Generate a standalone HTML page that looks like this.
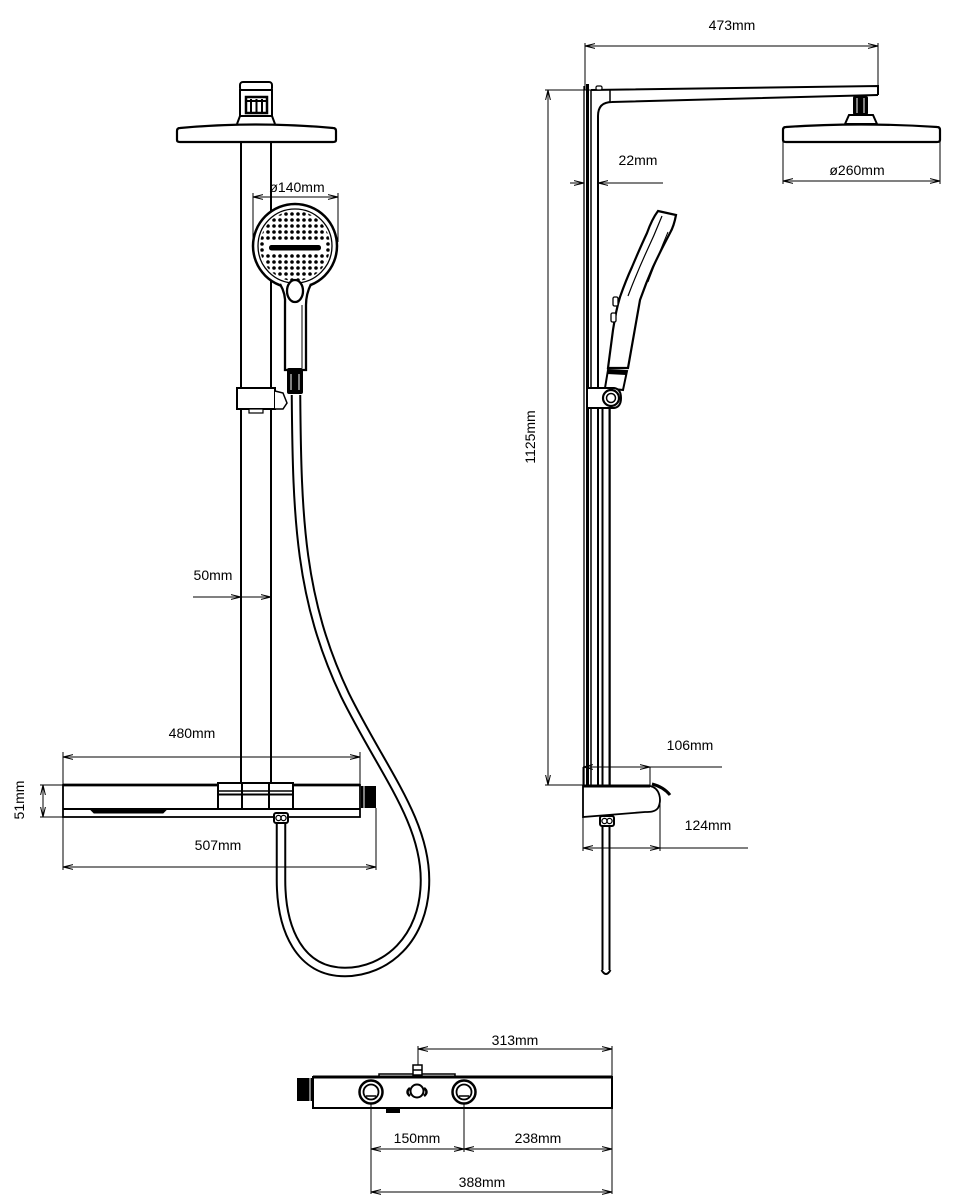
<!DOCTYPE html>
<html><head><meta charset="utf-8"><style>
html,body{margin:0;padding:0;background:#fff;}
svg{display:block;}
text{font-family:"Liberation Sans",sans-serif;font-size:14px;fill:#000;text-anchor:middle;}
</style></head><body>
<svg width="960" height="1200" viewBox="0 0 960 1200" xmlns="http://www.w3.org/2000/svg">
<defs>
<marker id="a" viewBox="0 0 10 6" refX="10" refY="3" markerWidth="10" markerHeight="6" markerUnits="userSpaceOnUse" orient="auto-start-reverse"><path d="M0,0.6 L10,3 L0,5.4" fill="none" stroke="#000" stroke-width="1"/></marker>
<pattern id="dots" width="6" height="6" patternUnits="userSpaceOnUse" x="1" y="1"><circle cx="3" cy="3" r="1.8" fill="#000"/></pattern>
<clipPath id="cc"><circle cx="295" cy="246" r="35"/></clipPath>
</defs>
<rect width="960" height="1200" fill="#fff"/>

<!-- ============ LEFT VIEW ============ -->
<g fill="none" stroke="#000" stroke-width="2">
  <!-- pipe -->
  <line x1="241" y1="140" x2="241" y2="785"/>
  <line x1="271" y1="140" x2="271" y2="785"/>
  <!-- top connector -->
  <rect x="240" y="82" width="32" height="9" rx="3" fill="#fff"/>
  <rect x="240" y="90" width="32" height="26" fill="#fff"/>
  <rect x="246" y="97" width="21" height="16" fill="#fff" stroke-width="2.5"/>
  <line x1="251" y1="99" x2="251" y2="112"/>
  <line x1="256.5" y1="99" x2="256.5" y2="112"/>
  <line x1="262" y1="99" x2="262" y2="112"/>
  <line x1="246" y1="101" x2="267" y2="101"/>
  <path d="M240,116 L237,124 M272,116 L275,124"/>
  <!-- rain disk -->
  <path d="M180,128 Q256,121 333,128 Q336,128 336,131 L336,140 Q336,142 333,142 L180,142 Q177,142 177,140 L177,131 Q177,128 180,128 Z" fill="#fff" stroke-width="2.2"/>
</g>

<!-- hose left -->
<path d="M296,395 C297,520 300,600 345,695 C382,770 425,820 425,880 C425,940 385,972 345,972 C300,972 281,930 281,880 L281,823" fill="none" stroke="#000" stroke-width="10.5"/>
<path d="M296,395 C297,520 300,600 345,695 C382,770 425,820 425,880 C425,940 385,972 345,972 C300,972 281,930 281,880 L281,823" fill="none" stroke="#fff" stroke-width="6.5"/>

<!-- hand shower left -->
<g stroke="#000" fill="none">
  <line x1="253" y1="193" x2="253" y2="242" stroke-width="1"/>
  <line x1="338" y1="193" x2="338" y2="242" stroke-width="1"/>
  <circle cx="295" cy="246" r="42" fill="#fff" stroke-width="2.5"/>
  <circle cx="295" cy="246" r="37" stroke-width="1.3"/>
  <rect x="255" y="205" width="80" height="82" fill="url(#dots)" stroke="none" clip-path="url(#cc)"/>
  <rect x="265" y="242" width="60" height="11" fill="#fff" stroke="none"/>
  <rect x="269" y="245" width="52" height="5.5" rx="2.5" fill="#000" stroke="none"/>
  <path d="M280,284 Q286,294 285,305 L285,370 L306,370 L306,305 Q306,294 311,284" fill="#fff" stroke-width="2.3"/>
  <line x1="302" y1="305" x2="302" y2="368" stroke-width="1"/>
  <ellipse cx="295" cy="291" rx="8" ry="11" fill="#fff" stroke-width="2.3"/>
  <rect x="287" y="368" width="16" height="26" rx="2" fill="#000" stroke="none"/>
  <line x1="291" y1="374" x2="291" y2="390" stroke="#fff" stroke-width="1"/>
  <line x1="299" y1="374" x2="299" y2="390" stroke="#fff" stroke-width="1"/>
  <!-- bracket -->
  <rect x="237" y="388" width="38" height="21" fill="#fff" stroke-width="2"/>
  <path d="M275,391 L283,393 L287,403 L283,409 L275,409" fill="#fff" stroke-width="1.5"/>
  <rect x="249" y="409" width="14" height="4" fill="#fff" stroke-width="1.2"/>
</g>

<!-- tray left -->
<g stroke="#000" fill="none">
  <rect x="63" y="785" width="297" height="32" fill="#fff" stroke-width="1.8"/>
  <line x1="63" y1="785" x2="360" y2="785" stroke-width="2.8"/>
  <line x1="63" y1="809" x2="360" y2="809" stroke-width="2"/>
  <path d="M90,809 L167,809 L163,813 L94,813 Z" fill="#000" stroke-width="1"/>
  <rect x="218" y="783" width="75" height="26" fill="#fff" stroke-width="2"/>
  <line x1="218" y1="791" x2="293" y2="791" stroke-width="1.5"/>
  <line x1="218" y1="794.5" x2="293" y2="794.5" stroke-width="2"/>
  <line x1="242" y1="783" x2="242" y2="809" stroke-width="2"/>
  <line x1="269" y1="783" x2="269" y2="809" stroke-width="2"/>
  <rect x="361" y="786" width="15" height="22" fill="#000" stroke="none"/>
  <line x1="364" y1="786" x2="364" y2="808" stroke="#fff" stroke-width="1"/>
  <rect x="274" y="813" width="14" height="10" rx="2" fill="#fff" stroke-width="2"/>
  <circle cx="278.5" cy="818" r="2.6" stroke-width="1.3"/>
  <circle cx="283.5" cy="818" r="2.6" stroke-width="1.3"/>
</g>

<!-- left dims -->
<g stroke="#000" stroke-width="1" fill="none">
  <line x1="63" y1="752" x2="63" y2="785"/>
  <line x1="360" y1="752" x2="360" y2="817"/>
  <line x1="63" y1="757" x2="360" y2="757" marker-start="url(#a)" marker-end="url(#a)"/>
  <line x1="63" y1="817" x2="63" y2="870"/>
  <line x1="376" y1="808" x2="376" y2="870"/>
  <line x1="63" y1="867" x2="376" y2="867" marker-start="url(#a)" marker-end="url(#a)"/>
  <line x1="40" y1="785" x2="63" y2="785"/>
  <line x1="40" y1="817" x2="63" y2="817"/>
  <line x1="43" y1="785" x2="43" y2="817" marker-start="url(#a)" marker-end="url(#a)"/>
  <line x1="193" y1="597" x2="241" y2="597" marker-end="url(#a)"/>
  <line x1="241" y1="597" x2="271" y2="597" marker-end="url(#a)"/>
  <line x1="253" y1="197" x2="338" y2="197" marker-start="url(#a)" marker-end="url(#a)"/>
</g>
<text x="297" y="192">ø140mm</text>
<text x="213" y="580">50mm</text>
<text x="192" y="738">480mm</text>
<text x="218" y="850">507mm</text>
<text x="0" y="0" transform="translate(24,800) rotate(-90)">51mm</text>

<!-- ============ RIGHT VIEW ============ -->
<g stroke="#000" fill="none">
  <!-- wall plate -->
  <line x1="584" y1="86" x2="584" y2="790" stroke-width="1.3"/>
  <line x1="587.5" y1="84" x2="587.5" y2="786" stroke-width="3"/>
  <!-- pipe -->
  <line x1="591" y1="90" x2="591" y2="786" stroke-width="1.5"/>
  <path d="M598,786 L598,116 Q598,102 612,102 L878,95" stroke-width="2"/>
  <path d="M591,90 L878,86 L878,95" stroke-width="2"/>
  <line x1="610" y1="90" x2="610" y2="102" stroke-width="1.5"/>
  <rect x="596" y="86" width="6" height="4" rx="1.5" fill="#fff" stroke-width="1.2"/>
  <!-- rain head -->
  <rect x="853" y="96" width="15" height="19" rx="2" fill="#000" stroke="none"/>
  <line x1="857" y1="98" x2="857" y2="113" stroke="#fff" stroke-width="1"/>
  <line x1="864" y1="98" x2="864" y2="113" stroke="#fff" stroke-width="1"/>
  <path d="M849,115 L873,115 L877,124 L845,124 Z" fill="#fff" stroke-width="2"/>
  <path d="M786,127 Q861,122 937,127 Q940,127 940,130 L940,140 Q940,142 937,142 L786,142 Q783,142 783,140 L783,130 Q783,127 786,127 Z" fill="#fff" stroke-width="2.2"/>
  <!-- hose right -->
  <path d="M606,408 L606,785 M606,822 L606,970" stroke="#000" stroke-width="9"/>
  <path d="M606,406 L606,785 M606,822 L606,971" stroke="#fff" stroke-width="5"/>
  <path d="M601.5,970 Q606,978 610.5,970" stroke-width="2"/>
  <!-- hand shower right -->
  <path d="M658,211 L676,215 Q674,226 670,233 Q660,252 653,267 Q646,283 640,300 L628,368 L608,368 L613,330 Q616,310 620,297 Q626,280 632,267 Q640,248 647,233 Q652,219 658,211 Z" fill="#fff" stroke-width="2.2"/>
  <path d="M662,216 Q654,236 645,255 Q636,275 628,296" stroke-width="1.2"/>
  <path d="M668,232 Q657,258 648,282" stroke-width="1"/>
  <rect x="613" y="297" width="5" height="9" rx="1.5" fill="#fff" stroke-width="1.3"/>
  <rect x="611" y="313" width="5" height="9" rx="1.5" fill="#fff" stroke-width="1.3"/>
  <path d="M608,370 L627,371 L623,390 L605,388 Z" fill="#fff" stroke-width="2"/>
  <path d="M608,370 L627,371 L626,375 L607,374 Z" fill="#000" stroke="none"/>
  <path d="M587,388 L614,388 Q621,389 621,398 Q621,407 614,408 L587,408 Z" fill="#fff" stroke-width="2"/>
  <circle cx="611" cy="398" r="8" fill="#fff" stroke-width="2.2"/>
  <circle cx="611" cy="398" r="4.5" stroke-width="1.5"/>
  <!-- tray right -->
  <line x1="610" y1="408" x2="610" y2="785" stroke-width="1.5"/>
  <path d="M583,786 L650,786 C660,788 662,800 658,808 C655,812 650,812 645,812 L583,817 Z" fill="#fff" stroke-width="1.8"/>
  <line x1="583" y1="786" x2="650" y2="786" stroke-width="3"/>
  <path d="M652,784 C660,786 666,790 670,795" stroke-width="3"/>
  <rect x="600" y="816" width="14" height="10" rx="2" fill="#fff" stroke-width="2"/>
  <circle cx="604.5" cy="821" r="2.6" stroke-width="1.3"/>
  <circle cx="609.5" cy="821" r="2.6" stroke-width="1.3"/>
</g>

<!-- right dims -->
<g stroke="#000" stroke-width="1" fill="none">
  <line x1="585" y1="43" x2="585" y2="90"/>
  <line x1="878" y1="43" x2="878" y2="86"/>
  <line x1="585" y1="46" x2="878" y2="46" marker-start="url(#a)" marker-end="url(#a)"/>
  <line x1="783" y1="142" x2="783" y2="184"/>
  <line x1="940" y1="142" x2="940" y2="184"/>
  <line x1="783" y1="181" x2="940" y2="181" marker-start="url(#a)" marker-end="url(#a)"/>
  <line x1="545" y1="90" x2="591" y2="90"/>
  <line x1="545" y1="785" x2="583" y2="785"/>
  <line x1="548" y1="90" x2="548" y2="785" marker-start="url(#a)" marker-end="url(#a)"/>
  <line x1="570" y1="183" x2="584" y2="183" marker-end="url(#a)"/>
  <line x1="663" y1="183" x2="598" y2="183" marker-end="url(#a)"/>
  <line x1="583" y1="767" x2="583" y2="786"/>
  <line x1="650" y1="767" x2="650" y2="786"/>
  <line x1="583" y1="767" x2="650" y2="767" marker-start="url(#a)" marker-end="url(#a)"/>
  <line x1="650" y1="767" x2="722" y2="767"/>
  <line x1="583" y1="817" x2="583" y2="851"/>
  <line x1="660" y1="800" x2="660" y2="851"/>
  <line x1="583" y1="848" x2="660" y2="848" marker-start="url(#a)" marker-end="url(#a)"/>
  <line x1="660" y1="848" x2="748" y2="848"/>
</g>
<text x="732" y="30">473mm</text>
<text x="638" y="165">22mm</text>
<text x="857" y="175">ø260mm</text>
<text x="0" y="0" transform="translate(535,437) rotate(-90)">1125mm</text>
<text x="690" y="750">106mm</text>
<text x="708" y="830">124mm</text>

<!-- ============ BOTTOM VIEW ============ -->
<g stroke="#000" fill="none">
  <rect x="379" y="1074" width="76" height="4" fill="#fff" stroke-width="1.5"/>
  <rect x="313" y="1077" width="299" height="31" fill="#fff" stroke-width="2"/>
  <line x1="313" y1="1077" x2="612" y2="1077" stroke-width="3"/>
  <rect x="297" y="1078" width="16" height="23" fill="#000" stroke="none"/>
  <line x1="310" y1="1078" x2="310" y2="1101" stroke="#fff" stroke-width="1"/>
  <rect x="413" y="1065" width="9" height="10" fill="#fff" stroke-width="1.5"/>
  <line x1="413" y1="1070" x2="422" y2="1070" stroke-width="1.5"/>
  <circle cx="371" cy="1092" r="11.5" stroke-width="2.5"/>
  <circle cx="371" cy="1092" r="7.5" stroke-width="1.8"/>
  <path d="M366,1096 L376,1096" stroke-width="1.5"/>
  <circle cx="464" cy="1092" r="11.5" stroke-width="2.5"/>
  <circle cx="464" cy="1092" r="7.5" stroke-width="1.8"/>
  <path d="M459,1096 L469,1096" stroke-width="1.5"/>
  <circle cx="417" cy="1091" r="6.5" stroke-width="2"/>
  <path d="M410,1088 Q405,1092 410,1096 M424,1088 Q429,1092 424,1096" stroke-width="2.5"/>
  <rect x="386" y="1108" width="14" height="5" fill="#000" stroke="none"/>
</g>
<g stroke="#000" stroke-width="1" fill="none">
  <line x1="418" y1="1046" x2="418" y2="1065"/>
  <line x1="612" y1="1046" x2="612" y2="1077"/>
  <line x1="418" y1="1049" x2="612" y2="1049" marker-start="url(#a)" marker-end="url(#a)"/>
  <line x1="371" y1="1104" x2="371" y2="1194"/>
  <line x1="464" y1="1104" x2="464" y2="1152"/>
  <line x1="612" y1="1108" x2="612" y2="1194"/>
  <line x1="371" y1="1149" x2="464" y2="1149" marker-start="url(#a)" marker-end="url(#a)"/>
  <line x1="464" y1="1149" x2="612" y2="1149" marker-start="url(#a)" marker-end="url(#a)"/>
  <line x1="371" y1="1192" x2="612" y2="1192" marker-start="url(#a)" marker-end="url(#a)"/>
</g>
<text x="515" y="1045">313mm</text>
<text x="417" y="1143">150mm</text>
<text x="538" y="1143">238mm</text>
<text x="482" y="1187">388mm</text>
</svg>
</body></html>
